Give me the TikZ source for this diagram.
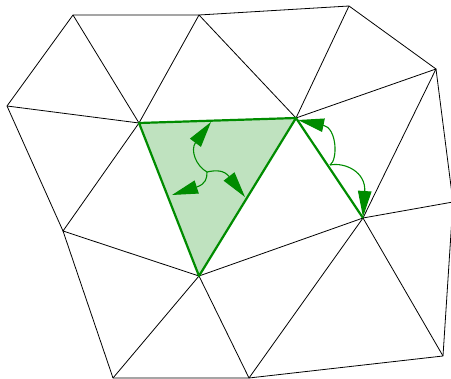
\documentclass[tikz,border=0pt]{standalone}
\usetikzlibrary{arrows.meta}
\definecolor{meshgreen}{RGB}{0,140,0}
\begin{document}
\begin{tikzpicture}[x=1pt, y=-1pt,
      mesh/.style={draw=black, line width=0.8pt, line join=round},
      cell/.style={draw=meshgreen, fill=meshgreen!25, line width=2.2pt, line join=round},
      edge/.style={draw=meshgreen, line width=2.2pt},
      flow/.style={draw=meshgreen, line width=1.1pt, -{Triangle[length=26pt,width=13.5pt]}}]
    \useasboundingbox (0,0) rectangle (451,379);
    % mesh vertices
    \coordinate (a) at (73,15);
    \coordinate (b) at (199,15);
    \coordinate (c) at (349,6);
    \coordinate (d) at (436,69);
    \coordinate (e) at (7,106);
    \coordinate (f) at (139,123);
    \coordinate (g) at (296,118);
    \coordinate (h) at (63,231);
    \coordinate (i) at (199,276);
    \coordinate (j) at (363,218);
    \coordinate (k) at (453,202);
    \coordinate (l) at (443,356);
    \coordinate (m) at (113,378);
    \coordinate (n) at (249,378);
    % triangulation
    \draw[mesh] (a) -- (b) -- (c) -- (d) -- (k) -- (l) -- (n) -- (m) -- (h) -- (e) -- cycle;
    \draw[mesh] (e) -- (f) -- (a);
    \draw[mesh] (f) -- (b) -- (g) -- (c);
    \draw[mesh] (g) -- (d) -- (j) -- (k);
    \draw[mesh] (f) -- (h) -- (i) -- (m);
    \draw[mesh] (i) -- (n) -- (j) -- (l);
    \draw[mesh] (i) -- (j);
    % highlighted cell and edge
    \draw[cell] (f) -- (g) -- (i) -- cycle;
    \draw[edge] (g) -- (j);
    % fluxes out of the cell
    \coordinate (p) at (207,172);
    \coordinate (pt) at (211,122);
    \coordinate (pl) at (172,195);
    \coordinate (pr) at (245,197);
    \draw[flow] (p) .. controls (196,166) and (190,150) .. (pt);
    \draw[flow] (p) .. controls (207,178) and (206,184) .. (pl);
    \draw[flow] (p) .. controls (216,170) and (224,170) .. (pr);
    % edge to its end points
    \coordinate (s) at (330,165);
    \coordinate (st) at (298,120);
    \coordinate (sb) at (363,217);
    \draw[flow] (s) .. controls (338,160) and (337,128) .. (st);
    \draw[flow] (s) .. controls (345,162) and (366,172) .. (sb);
\end{tikzpicture}
\end{document}
